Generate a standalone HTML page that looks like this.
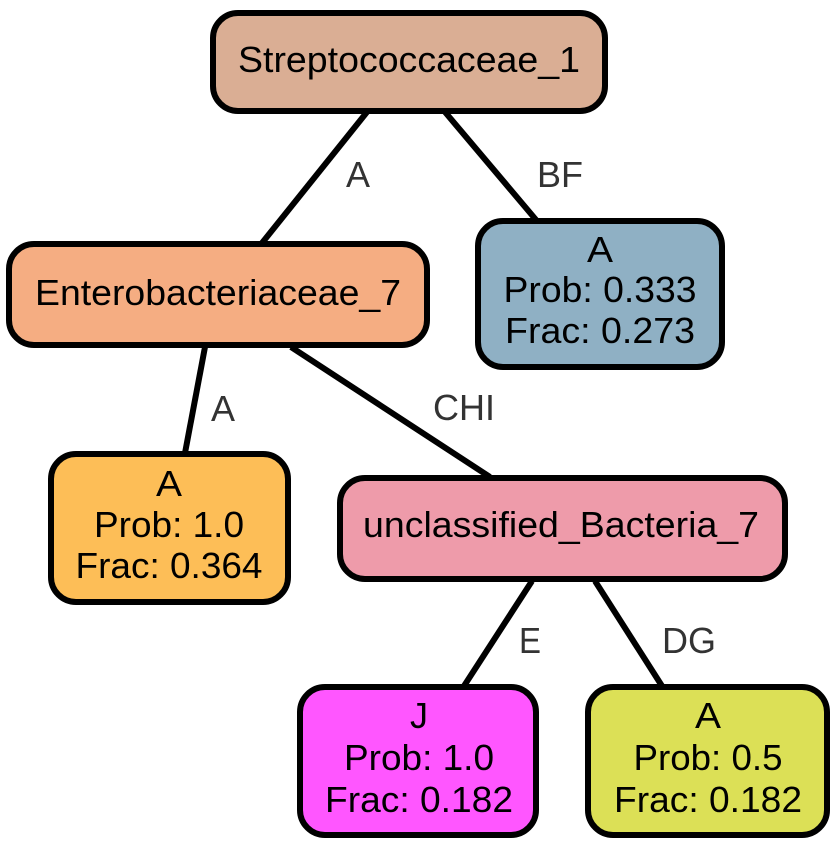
<!DOCTYPE html>
<html><head><style>body{margin:0;background:#fff}svg{display:block}</style></head><body>
<svg width="831" height="846" viewBox="0 0 831 846" xmlns="http://www.w3.org/2000/svg" font-family="Liberation Sans, Arial, sans-serif">
<g stroke="#000" stroke-width="6" fill="none">
<line x1="367" y1="112" x2="262" y2="243"/>
<line x1="445" y1="112" x2="537" y2="221"/>
<line x1="205" y1="347" x2="185" y2="453"/>
<line x1="291" y1="347" x2="490" y2="477"/>
<line x1="532" y1="581" x2="464" y2="686"/>
<line x1="595" y1="581" x2="662" y2="686"/>
</g>
<g font-size="36" fill="#333" text-anchor="middle">
<text x="358" y="187" textLength="24" lengthAdjust="spacingAndGlyphs">A</text>
<text x="560" y="187" textLength="46" lengthAdjust="spacingAndGlyphs">BF</text>
<text x="223" y="421" textLength="24" lengthAdjust="spacingAndGlyphs">A</text>
<text x="464" y="420" textLength="62" lengthAdjust="spacingAndGlyphs">CHI</text>
<text x="530" y="653" textLength="22" lengthAdjust="spacingAndGlyphs">E</text>
<text x="689" y="653" textLength="54" lengthAdjust="spacingAndGlyphs">DG</text>
</g>
<g stroke="#000" stroke-width="6">
<rect x="213" y="13" width="392" height="98" rx="25" fill="#DAAE94"/>
<rect x="9" y="244" width="418" height="101" rx="25" fill="#F5AD82"/>
<rect x="478" y="221" width="244" height="146" rx="25" fill="#8FB0C4"/>
<rect x="51" y="454" width="237" height="148" rx="25" fill="#FDBE57"/>
<rect x="340" y="478" width="445" height="101" rx="25" fill="#EE9BAA"/>
<rect x="300" y="687" width="236" height="148" rx="25" fill="#FF56FF"/>
<rect x="588" y="687" width="239" height="148" rx="25" fill="#DCE056"/>
</g>
<g font-size="36" fill="#000" text-anchor="middle">
<text x="409" y="72" textLength="342" lengthAdjust="spacingAndGlyphs">Streptococcaceae_1</text>
<text x="218" y="305" textLength="366" lengthAdjust="spacingAndGlyphs">Enterobacteriaceae_7</text>
<text x="600" y="262" textLength="26" lengthAdjust="spacingAndGlyphs">A</text>
<text x="600" y="302" textLength="193" lengthAdjust="spacingAndGlyphs">Prob: 0.333</text>
<text x="600" y="343" textLength="190" lengthAdjust="spacingAndGlyphs">Frac: 0.273</text>
<text x="169" y="496" textLength="26" lengthAdjust="spacingAndGlyphs">A</text>
<text x="169" y="537" textLength="150" lengthAdjust="spacingAndGlyphs">Prob: 1.0</text>
<text x="169" y="578" textLength="187" lengthAdjust="spacingAndGlyphs">Frac: 0.364</text>
<text x="561" y="537" textLength="396" lengthAdjust="spacingAndGlyphs">unclassified_Bacteria_7</text>
<text x="419" y="728">J</text>
<text x="419" y="770" textLength="150" lengthAdjust="spacingAndGlyphs">Prob: 1.0</text>
<text x="419" y="812" textLength="188" lengthAdjust="spacingAndGlyphs">Frac: 0.182</text>
<text x="708" y="728" textLength="26" lengthAdjust="spacingAndGlyphs">A</text>
<text x="708" y="770" textLength="149" lengthAdjust="spacingAndGlyphs">Prob: 0.5</text>
<text x="708" y="812" textLength="188" lengthAdjust="spacingAndGlyphs">Frac: 0.182</text>
</g>
</svg>
</body></html>
